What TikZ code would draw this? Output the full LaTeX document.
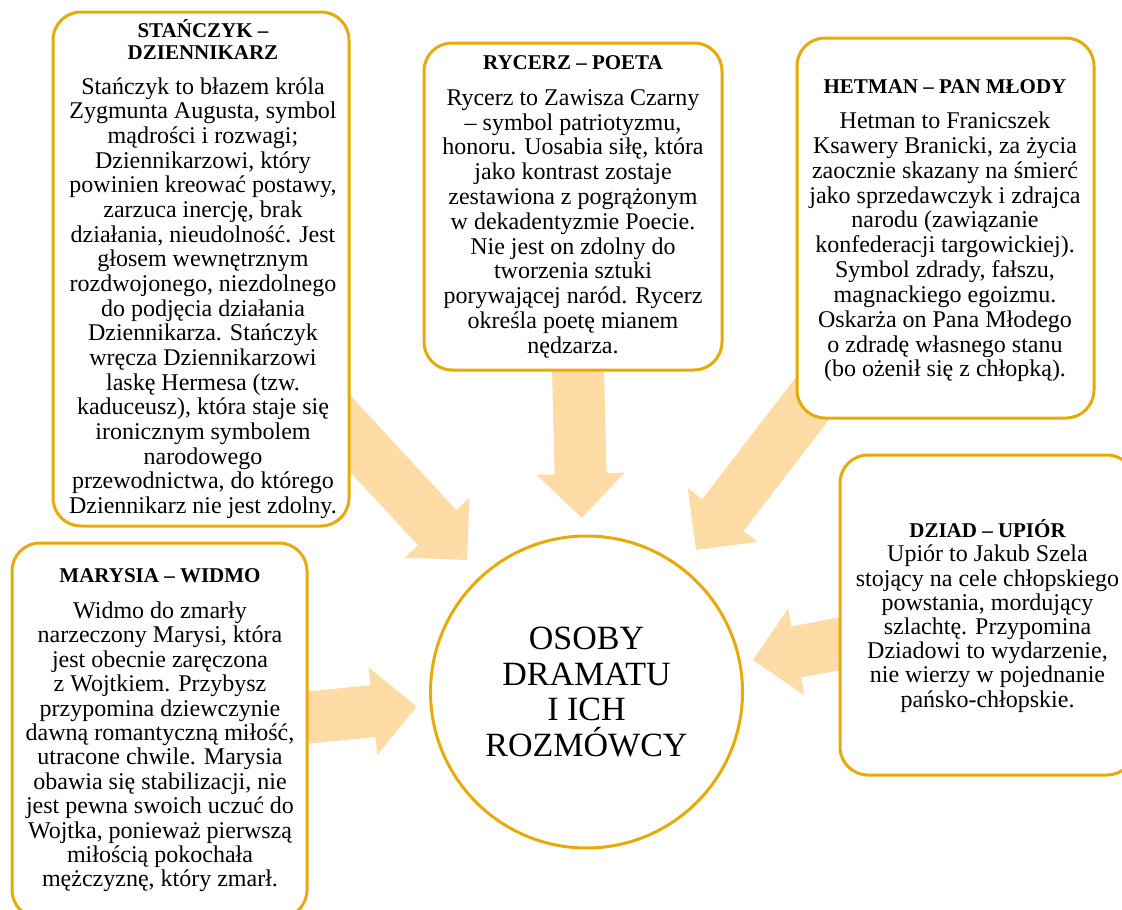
\documentclass[tikz,border=0pt]{standalone}
\usepackage{fontspec}
\setmainfont{Liberation Serif}
\usetikzlibrary{calc}
\definecolor{gold}{RGB}{232,170,10}
\definecolor{peach}{RGB}{255,219,166}
\newcommand\blockarrow[2]{%
  \path ($(#2)!44pt!(#1)$) coordinate (ba);
  \fill[peach] ($(#1)!26pt!90:(ba)$) -- ($(ba)!26pt!-90:(#1)$) -- ($(ba)!44pt!-90:(#1)$) -- (#2)
     -- ($(ba)!44pt!90:(#1)$) -- ($(ba)!26pt!90:(#1)$) -- ($(#1)!26pt!-90:(ba)$) -- cycle;}
\tikzset{
  boxst/.style={draw=gold, line width=3pt, fill=white, rounded corners=28pt, inner sep=0pt, outer sep=0pt},
  titlest/.style={font=\fontsize{21}{22}\selectfont\bfseries, align=center, inner sep=0pt, anchor=north},
  bodyst/.style={font=\fontsize{24}{#1}\selectfont, align=center, inner sep=0pt, anchor=north},
}
\begin{document}
\lineskiplimit=-50pt\relax
\begin{tikzpicture}[x=1pt,y=-1pt]
\useasboundingbox (0,0) rectangle (1122,910);
\fill[white] (0,0) rectangle (1122,910);
% arrow end points
\coordinate (a1s) at (309,389);     \coordinate (a1e) at (467,560);
\coordinate (a2s) at (577.3,340);   \coordinate (a2e) at (581.7,517.7);
\coordinate (a3s) at (832,373);     \coordinate (a3e) at (696,550);
\coordinate (a4s) at (253.6,723);   \coordinate (a4e) at (416.7,706.7);
\coordinate (a5s) at (913.5,630);   \coordinate (a5e) at (753,660);
\blockarrow{a1s}{a1e}
\blockarrow{a2s}{a2e}
\blockarrow{a3s}{a3e}
\blockarrow{a4s}{a4e}
\blockarrow{a5s}{a5e}
% boxes
\node[boxst, minimum width=296pt, minimum height=514pt] (stanczyk) at (201,269) {};
\node[boxst, minimum width=298pt, minimum height=327pt] (rycerz) at (573,206.5) {};
\node[boxst, minimum width=297pt, minimum height=380pt] (hetman) at (945.5,228) {};
\node[boxst, minimum width=295pt, minimum height=375pt] (marysia) at (159.5,730.5) {};
\node[boxst, minimum width=295pt, minimum height=320pt] (dziad) at (987.5,615) {};
\node[circle, draw=gold, line width=3pt, fill=white, minimum size=312pt, inner sep=0pt,
      font=\fontsize{34}{35.7}\selectfont, align=center] (osoby) at (586.5,692)
      {OSOBY\\DRAMATU\\I ICH\\ROZMÓWCY};
% texts
\node[titlest] (stanczykT) at (203,16.3) {\rule{0pt}{21pt}STAŃCZYK –\\DZIENNIKARZ};
\node[bodyst=24.66] (stanczykB) at (203,71) {\rule{0pt}{23pt}Stańczyk to błazem króla\\
Zygmunta Augusta, symbol\\mądrości i rozwagi;\\Dziennikarzowi, który\\
powinien kreować postawy,\\zarzuca inercję, brak\\działania, nieudolność. Jest\\
głosem wewnętrznym\\rozdwojonego, niezdolnego\\do podjęcia działania\\
Dziennikarza. Stańczyk\\wręcza Dziennikarzowi\\laskę Hermesa (tzw.\\
kaduceusz), która staje się\\ironicznym symbolem\\narodowego\\
przewodnictwa, do którego\\Dziennikarz nie jest zdolny.};
\node[titlest] (rycerzT) at (573,48.3) {\rule{0pt}{21pt}RYCERZ – POETA};
\node[bodyst=24.8] (rycerzB) at (573,82) {\rule{0pt}{23pt}Rycerz to Zawisza Czarny\\
– symbol patriotyzmu,\\honoru. Uosabia siłę, która\\jako kontrast zostaje\\
zestawiona z pogrążonym\\w dekadentyzmie Poecie.\\Nie jest on zdolny do\\
tworzenia sztuki\\porywającej naród. Rycerz\\określa poetę mianem\\nędzarza.};
\node[titlest] (hetmanT) at (945,72.3) {\rule{0pt}{21pt}HETMAN – PAN MŁODY};
\node[bodyst=24.84] (hetmanB) at (945,105.3) {\rule{0pt}{23pt}Hetman to Franicszek\\
Ksawery Branicki, za życia\\zaocznie skazany na śmierć\\jako sprzedawczyk i zdrajca\\
narodu (zawiązanie\\konfederacji targowickiej).\\Symbol zdrady, fałszu,\\
magnackiego egoizmu.\\Oskarża on Pana Młodego\\o zdradę własnego stanu\\
(bo ożenił się z chłopką).};
\node[titlest] (marysiaT) at (160,561.7) {\rule{0pt}{21pt}MARYSIA – WIDMO};
\node[bodyst=24.4] (marysiaB) at (160,595.3) {\rule{0pt}{23pt}Widmo do zmarły\\
narzeczony Marysi, która\\jest obecnie zaręczona\\z Wojtkiem. Przybysz\\
przypomina dziewczynie\\dawną romantyczną miłość,\\utracone chwile. Marysia\\
obawia się stabilizacji, nie\\jest pewna swoich uczuć do\\Wojtka, ponieważ pierwszą\\
miłością pokochała\\mężczyznę, który zmarł.};
\node[titlest] (dziadT) at (987.5,516.3) {\rule{0pt}{21pt}DZIAD – UPIÓR};
\node[bodyst=24.2] (dziadB) at (987.5,538.7) {\rule{0pt}{23pt}Upiór to Jakub Szela\\
stojący na cele chłopskiego\\powstania, mordujący\\szlachtę. Przypomina\\
Dziadowi to wydarzenie,\\nie wierzy w pojednanie\\pańsko-chłopskie.};
\end{tikzpicture}
\end{document}
